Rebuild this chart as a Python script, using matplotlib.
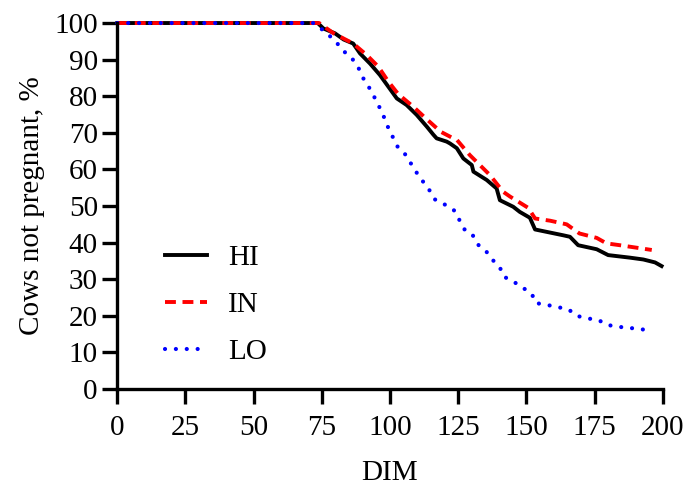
import matplotlib
matplotlib.use("Agg")
import matplotlib.pyplot as plt

plt.rcParams['font.family'] = ['Liberation Serif', 'DejaVu Serif']

HI_x = [0, 73.5, 75.6, 79.8, 83, 86.5, 89, 92.7, 96.3, 99.4, 102.5, 106.1, 109.8, 113.5, 115.9,
        117.1, 120.8, 122, 124.5, 126.9, 130, 130.6, 135.5, 139.1, 140.3, 145.2, 147.6, 151.3,
        153.2, 163.6, 166, 169, 175.8, 180, 188, 192.9, 197.2, 199.6]
HI_y = [100, 100, 98.5, 97.2, 95.5, 94.4, 91.7, 88.9, 85.8, 82.6, 79.4, 77.6, 74.9, 71.7, 69.5,
        68.5, 67.6, 67.1, 65.8, 63, 61.2, 59.4, 57.1, 54.8, 51.6, 49.8, 48.4, 46.8,
        43.6, 42, 41.6, 39.3, 38.2, 36.6, 35.9, 35.4, 34.6, 33.6]

IN_x = [0, 74, 79.3, 86.5, 91.4, 95.7, 99.4, 103, 108.6, 113.5, 118.6, 123.2, 124.5, 129.3,
        136.6, 141.5, 144, 150.7, 153.2, 158.7, 164.8, 169.5, 175.8, 179.4, 184.3, 196]
IN_y = [100, 100, 97.2, 94.4, 91.3, 88.1, 84, 80.6, 77.1, 73.7, 70.3, 68.5, 68.1, 63.9,
        58.5, 53.9, 52.6, 49.5, 46.6, 46, 45, 42.5, 41.3, 39.8, 39.3, 38]

LO_x = [0, 72, 75, 78, 80.8, 83.5, 86.3, 88.6, 90.2, 92.4, 94.3, 96.2, 97.8, 99.3, 101, 102.8,
        105.5, 107.7, 109.8, 112.2, 114.4, 116.5, 119.9, 123.4, 125.3, 127.5, 130.3, 132.2,
        135.2, 137.5, 140.3, 141.8, 145.4, 148.7, 152, 153.5, 157.5, 161.4, 165.4, 168.5,
        172.4, 176.3, 179.8, 183.9, 187.8, 191.8, 195.7]
LO_y = [100, 100, 98.3, 96.4, 94.3, 92, 90.1, 87.5, 84.9, 82.3, 79.7, 76.9, 74.3, 71.5, 68.9,
        66.2, 64.2, 61.6, 59.1, 56.6, 54.4, 51.8, 50.5, 48.9, 46.4, 43.4, 42.1, 39.5, 37.7,
        35.4, 33.2, 30.7, 29.3, 27.7, 26, 23.5, 23, 22.4, 21.8, 20, 19.3, 18.9, 17.5, 17,
        16.7, 16.4, 15.9]

x_ticks = [0, 25, 50, 75, 100, 125, 150, 175, 200]
y_ticks = [0, 10, 20, 30, 40, 50, 60, 70, 80, 90, 100]

fig = plt.figure(figsize=(6.86, 4.90), dpi=100)
ax = fig.add_axes([0.171, 0.206, 0.795, 0.747])

ax.plot(HI_x, HI_y, color='black', lw=2.8, label='HI', clip_on=False, solid_joinstyle='round')
ax.plot(IN_x, IN_y, color='#ff0000', lw=2.8, linestyle=(0, (2.8, 1.7)), label='IN', clip_on=False)
ax.plot(LO_x, LO_y, color='#0000ff', lw=3.0, linestyle=(0, (0.01, 2.6)),
        dash_capstyle='round', label='LO', clip_on=False)

ax.set_xlim(0, 200)
ax.set_ylim(0, 100)
ax.set_xticks(x_ticks)
ax.set_yticks(y_ticks)
ax.spines['top'].set_visible(False)
ax.spines['right'].set_visible(False)
for s in ('left', 'bottom'):
    ax.spines[s].set_linewidth(2.4)
ax.tick_params(axis='both', direction='out', length=11, width=2.4, labelsize=21, pad=3)
ax.tick_params(axis='x', pad=8)

ax.set_xlabel('DIM', fontsize=21, labelpad=13)
ax.set_ylabel('Cows not pregnant, %', fontsize=21, labelpad=7)

leg = ax.legend(loc='center left', bbox_to_anchor=(0.087, 0.23), frameon=False, fontsize=21,
                handlelength=1.45, handletextpad=0.72, labelspacing=0.7, borderpad=0,
                borderaxespad=0)

fig.savefig('out.png', dpi=100)
